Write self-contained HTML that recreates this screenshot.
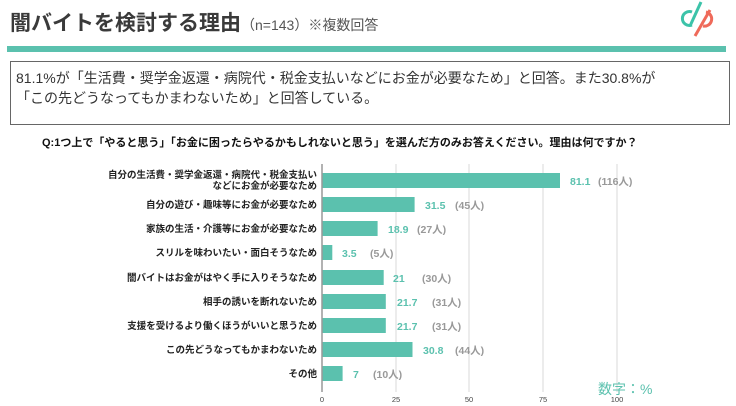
<!DOCTYPE html>
<html><head><meta charset="utf-8"><style>
body{margin:0;width:736px;height:406px;background:#fff;overflow:hidden;position:relative;font-family:"Liberation Sans","Noto Sans CJK JP",sans-serif;color:#333}
.a{position:absolute;white-space:nowrap}
</style></head><body>
<div class="a" style="left:10px;top:7px;font-size:21px;font-weight:bold;color:#3a3a3a">闇バイトを検討する理由<span style="font-size:14px;font-weight:normal;color:#555">（n=143）※複数回答</span></div>
<svg class="a" style="left:670px;top:0" width="60" height="40" viewBox="0 0 60 40">
<path d="M22 12 A7 7 0 1 0 22 25" fill="none" stroke="#3cc3a9" stroke-width="3"/>
<line x1="31" y1="2" x2="20" y2="26" stroke="#3cc3a9" stroke-width="3"/>
<line x1="40" y1="10" x2="25" y2="36" stroke="#ef6a5a" stroke-width="3"/>
<path d="M36 12 A7 7 0 1 1 33 26" fill="none" stroke="#ef6a5a" stroke-width="3"/>
</svg>
<div class="a" style="left:7px;top:46px;width:719px;height:6px;background:#5bc1ae"></div>
<div class="a" style="left:10px;top:61px;width:718px;height:62px;border:1px solid #666"></div>
<div class="a" style="left:16px;top:68px;font-size:14px;line-height:20px;color:#333">81.1%が「生活費・奨学金返還・病院代・税金支払いなどにお金が必要なため」と回答。また30.8%が<br>「この先どうなってもかまわないため」と回答している。</div>
<div class="a" style="left:42px;top:134px;font-size:11px;font-weight:bold;color:#111">Q:1つ上で「やると思う」「お金に困ったらやるかもしれないと思う」を選んだ方のみお答えください。理由は何ですか？</div>
<svg class="a" style="left:0;top:0" width="736" height="406">
<g stroke="#e6e6e6" stroke-width="1.5"><line x1="396" y1="164" x2="396" y2="392"/><line x1="469" y1="164" x2="469" y2="392"/><line x1="543" y1="164" x2="543" y2="392"/><line x1="617" y1="164" x2="617" y2="392"/></g>
<g fill="#5bc1ae">
<rect x="322" y="173" width="238" height="15"/>
<rect x="322" y="197" width="92.6" height="15"/>
<rect x="322" y="221" width="55.6" height="15"/>
<rect x="322" y="245" width="10.3" height="15"/>
<rect x="322" y="270" width="61.7" height="15"/>
<rect x="322" y="294" width="63.8" height="15"/>
<rect x="322" y="318" width="63.8" height="15"/>
<rect x="322" y="342" width="90.5" height="15"/>
<rect x="322" y="366" width="20.6" height="15"/>
</g>
<line x1="322" y1="164" x2="322" y2="392" stroke="#999" stroke-width="1.5"/>
<g font-size="7.5" fill="#444" text-anchor="middle"><text x="322" y="402">0</text><text x="396" y="402">25</text><text x="469" y="402">50</text><text x="543" y="402">75</text><text x="617" y="402">100</text></g>
<g font-size="9.5" font-weight="bold" fill="#222" text-anchor="end">
<text x="317" y="178">自分の生活費・奨学金返還・病院代・税金支払い</text>
<text x="317" y="189">などにお金が必要なため</text>
<text x="317" y="208">自分の遊び・趣味等にお金が必要なため</text>
<text x="317" y="232">家族の生活・介護等にお金が必要なため</text>
<text x="317" y="256">スリルを味わいたい・面白そうなため</text>
<text x="317" y="281">闇バイトはお金がはやく手に入りそうなため</text>
<text x="317" y="305">相手の誘いを断れないため</text>
<text x="317" y="329">支援を受けるより働くほうがいいと思うため</text>
<text x="317" y="353">この先どうなってもかまわないため</text>
<text x="317" y="377">その他</text>
</g>
<g font-size="10.5" font-weight="bold" fill="#5bc1ae">
<text x="570" y="185">81.1</text><text x="425" y="209">31.5</text><text x="388" y="233">18.9</text><text x="342" y="257">3.5</text><text x="393" y="282">21</text><text x="397" y="306">21.7</text><text x="397" y="330">21.7</text><text x="423" y="354">30.8</text><text x="353" y="378">7</text>
</g>
<g font-size="10.5" font-weight="bold" fill="#999">
<text x="598" y="185">(116人)</text><text x="455" y="209">(45人)</text><text x="417" y="233">(27人)</text><text x="370" y="257">(5人)</text><text x="422" y="282">(30人)</text><text x="432" y="306">(31人)</text><text x="432" y="330">(31人)</text><text x="455" y="354">(44人)</text><text x="373" y="378">(10人)</text>
</g>
<text x="598" y="394" font-size="14" fill="#5bc1ae">数字：%</text>
</svg>
</body></html>
